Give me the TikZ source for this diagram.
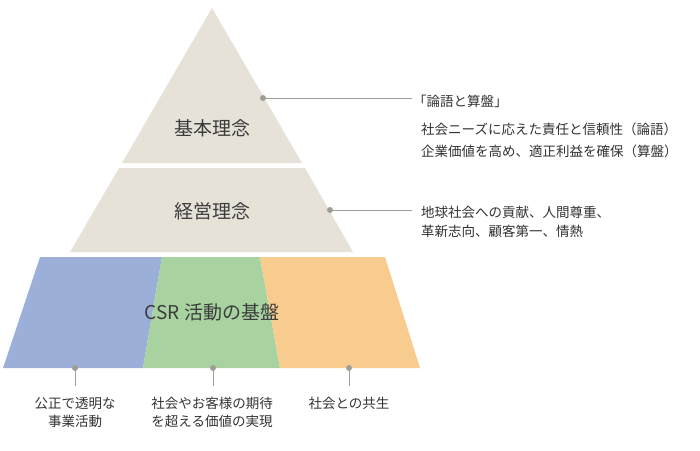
\documentclass[tikz,border=0pt]{standalone}
\usepackage{fontspec}
\setmainfont{Noto Sans CJK JP}
\begin{document}
\begin{tikzpicture}[x=1pt,y=-1pt,
  beige/.style={fill={rgb,255:red,230;green,226;blue,216}},
  lbl/.style={font=\fontsize{19}{22}\selectfont, text={rgb,255:red,60;green,60;blue,60}},
  txt/.style={font=\fontsize{13.5}{17}\selectfont, text={rgb,255:red,50;green,50;blue,50}, anchor=west, inner sep=0},
  btxt/.style={font=\fontsize{13.5}{18}\selectfont, text={rgb,255:red,50;green,50;blue,50}, align=center, anchor=north, inner sep=0},
  dot/.style={circle, fill={rgb,255:red,160;green,158;blue,148}, inner sep=0, minimum size=6pt},
  ln/.style={draw={rgb,255:red,160;green,158;blue,148}, line width=0.8pt}]
\useasboundingbox (0,0) rectangle (700,450);
\fill[beige] (212,8) -- (302,163) -- (122,163) -- cycle;
\fill[beige] (119,168) -- (305,168) -- (353,252) -- (70,252) -- cycle;
\fill[fill={rgb,255:red,155;green,175;blue,217}] (40,257) -- (162,257) -- (143,368) -- (3,368) -- cycle;
\fill[fill={rgb,255:red,168;green,211;blue,160}] (162,257) -- (260,257) -- (280,368) -- (143,368) -- cycle;
\fill[fill={rgb,255:red,248;green,203;blue,142}] (260,257) -- (385,257) -- (420,368) -- (280,368) -- cycle;
\node[lbl] (l1) at (212,128) {基本理念};
\node[lbl] (l2) at (212,211) {経営理念};
\node[lbl] (l3) at (212,312) {CSR 活動の基盤};
\node[dot] (d1) at (263,98) {};
\coordinate (e1) at (412,98);
\draw[ln] (d1) -- (e1);
\node[dot] (d2) at (330,210) {};
\coordinate (e2) at (412,210);
\draw[ln] (d2) -- (e2);
\node[txt] (t1) at (413,101) {「論語と算盤」};
\node[txt] (t2) at (421,129) {社会ニーズに応えた責任と信頼性（論語）};
\node[txt] (t3) at (421,151) {企業価値を高め、適正利益を確保（算盤）};
\node[txt] (t4) at (421,212) {地球社会への貢献、人間尊重、};
\node[txt] (t5) at (421,231) {革新志向、顧客第一、情熱};
\node[dot] (b1) at (75,368) {};
\node[dot] (b2) at (213,368) {};
\node[dot] (b3) at (349,368) {};
\coordinate (c1) at (75,386);
\coordinate (c2) at (213,386);
\coordinate (c3) at (349,386);
\draw[ln] (b1) -- (c1);
\draw[ln] (b2) -- (c2);
\draw[ln] (b3) -- (c3);
\node[btxt] (u1) at (75,397) {公正で透明な\\事業活動};
\node[btxt] (u2) at (212,397) {社会やお客様の期待\\を超える価値の実現};
\node[btxt] (u3) at (349,397) {社会との共生};
\end{tikzpicture}
\end{document}
